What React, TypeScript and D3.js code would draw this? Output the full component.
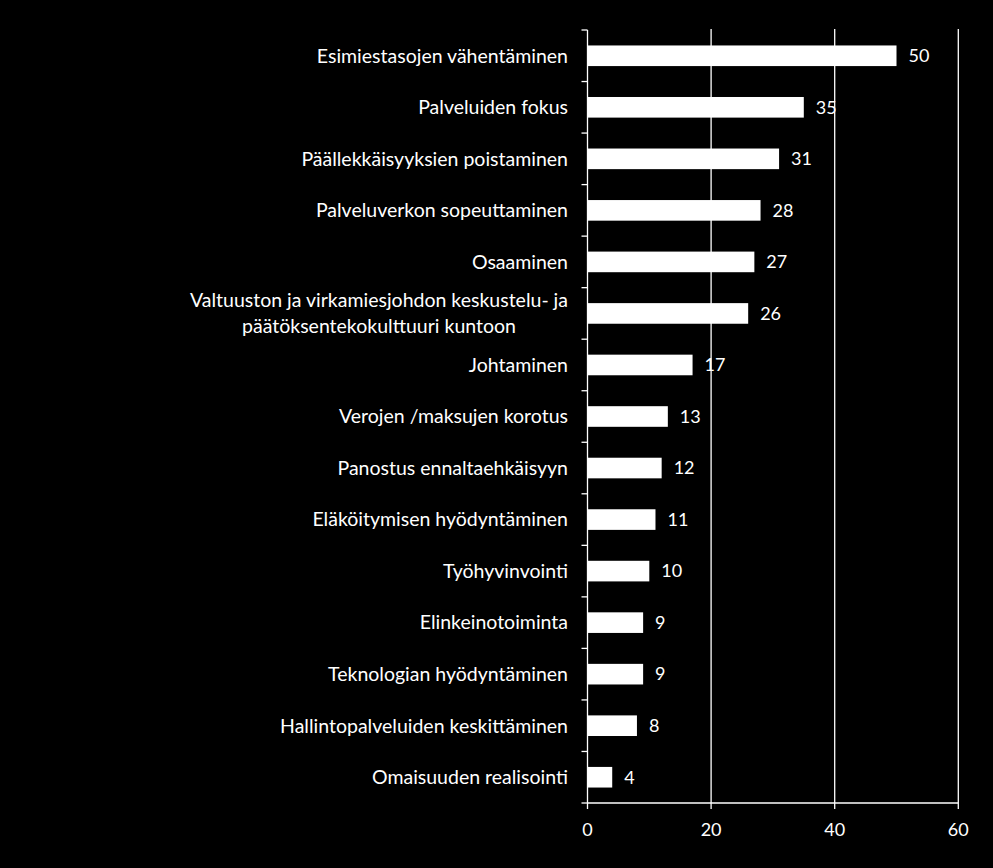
import React, { useEffect, useRef } from "react";
import * as d3 from "d3";

const categories: string[][] = [
  ["Esimiestasojen vähentäminen"],
  ["Palveluiden fokus"],
  ["Päällekkäisyyksien poistaminen"],
  ["Palveluverkon sopeuttaminen"],
  ["Osaaminen"],
  ["Valtuuston ja virkamiesjohdon keskustelu- ja", "päätöksentekokulttuuri kuntoon"],
  ["Johtaminen"],
  ["Verojen /maksujen korotus"],
  ["Panostus ennaltaehkäisyyn"],
  ["Eläköitymisen hyödyntäminen"],
  ["Työhyvinvointi"],
  ["Elinkeinotoiminta"],
  ["Teknologian hyödyntäminen"],
  ["Hallintopalveluiden keskittäminen"],
  ["Omaisuuden realisointi"],
];
const values: number[] = [50, 35, 31, 28, 27, 26, 17, 13, 12, 11, 10, 9, 9, 8, 4];
const xTicks: number[] = [0, 20, 40, 60];

const W = 993;
const H = 868;
const FONT = "Lato, 'Open Sans', sans-serif";

export default function App() {
  const ref = useRef<SVGSVGElement | null>(null);

  useEffect(() => {
    document.body.style.margin = "0";
    document.body.style.background = "#000";
    const svg = d3.select(ref.current);
    svg.selectAll("*").remove();

    const x0 = 587.5, x1 = 958.3, yTop = 30, yBot = 803;
    const x = d3.scaleLinear().domain([0, 60]).range([x0, x1]);
    const idx = categories.map((_, i) => String(i));
    const y = d3.scaleBand().domain(idx).range([yTop, yBot]).paddingInner(0.6).paddingOuter(0.3);
    const yb = d3.scaleBand().domain(idx).range([yTop, yBot]);

    svg.append("rect").attr("width", W).attr("height", H).attr("fill", "#000");

    // gridlines
    svg.append("g").selectAll("line").data(xTicks.filter((t) => t > 0)).join("line")
      .attr("x1", (d) => x(d)).attr("x2", (d) => x(d))
      .attr("y1", yTop - 1).attr("y2", yBot)
      .attr("stroke", "#fff").attr("stroke-width", 1.3);

    // bars
    svg.append("g").selectAll("rect").data(values).join("rect")
      .attr("x", x(0)).attr("y", (_, i) => y(String(i))!)
      .attr("width", (d) => x(d) - x(0)).attr("height", y.bandwidth())
      .attr("fill", "#fff");

    // value labels
    svg.append("g").selectAll("text").data(values).join("text")
      .attr("x", (d) => x(d) + 12).attr("y", (_, i) => y(String(i))! + y.bandwidth() / 2)
      .attr("dy", "0.35em").attr("fill", "#fff")
      .style("font-family", FONT).style("font-size", "18px")
      .text((d) => String(d));

    // y axis line and ticks
    const ax = svg.append("g");
    ax.append("line").attr("x1", x0).attr("x2", x0).attr("y1", yTop).attr("y2", yBot)
      .attr("stroke", "#fff").attr("stroke-width", 1.3);
    const yTickPos = d3.range(categories.length + 1).map((i) => (i < categories.length ? yb(String(i))! : yBot));
    ax.selectAll("line.t").data(yTickPos).join("line").attr("class", "t")
      .attr("x1", x0 - 6).attr("x2", x0).attr("y1", (d) => d).attr("y2", (d) => d)
      .attr("stroke", "#fff").attr("stroke-width", 1.3);

    // x axis
    ax.append("line").attr("x1", x0).attr("x2", x1).attr("y1", yBot).attr("y2", yBot)
      .attr("stroke", "#fff").attr("stroke-width", 1.3);
    ax.selectAll("line.xt").data(xTicks).join("line").attr("class", "xt")
      .attr("x1", (d) => x(d)).attr("x2", (d) => x(d)).attr("y1", yBot).attr("y2", yBot + 6)
      .attr("stroke", "#fff").attr("stroke-width", 1.3);
    ax.selectAll("text.xl").data(xTicks).join("text").attr("class", "xl")
      .attr("x", (d) => x(d)).attr("y", yBot + 27).attr("dy", "0.35em")
      .attr("text-anchor", "middle").attr("fill", "#fff")
      .style("font-family", FONT).style("font-size", "18px")
      .text((d) => String(d));

    // category labels
    const labelRight = 568;
    categories.forEach((lines, i) => {
      const cy = yb(String(i))! + yb.bandwidth() / 2;
      const g = svg.append("g");
      if (lines.length === 1) {
        g.append("text").attr("x", labelRight).attr("y", cy).attr("dy", "0.35em")
          .attr("text-anchor", "end").attr("fill", "#fff")
          .style("font-family", FONT).style("font-size", "19.5px").text(lines[0]);
      } else {
        const texts = lines.map((l, k) =>
          g.append("text").attr("y", cy + (k - (lines.length - 1) / 2) * 26).attr("dy", "0.35em")
            .attr("text-anchor", "middle").attr("fill", "#fff")
            .style("font-family", FONT).style("font-size", "19.5px").text(l)
        );
        const maxW = Math.max(...texts.map((t) => (t.node() as SVGTextElement).getComputedTextLength()));
        texts.forEach((t) => t.attr("x", labelRight - maxW / 2));
      }
    });
  }, []);

  return <svg ref={ref} width={W} height={H} style={{ display: "block" }} />;
}
